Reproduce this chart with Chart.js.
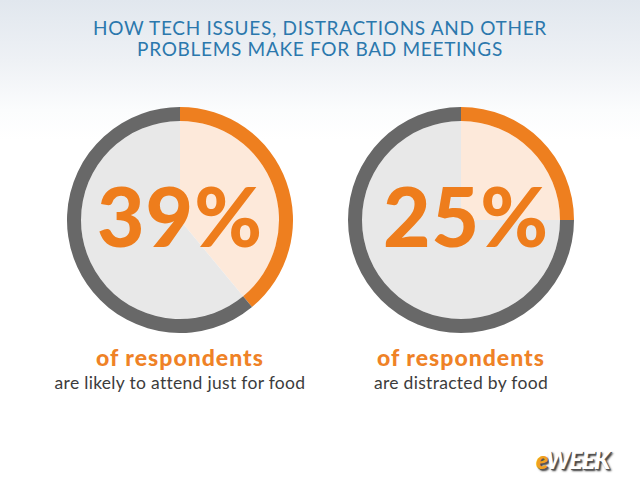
<!DOCTYPE html>
<html>
<head>
<meta charset="utf-8">
<script src="https://cdn.jsdelivr.net/npm/chart.js@4"></script>
<style>
  body { margin: 0; width: 640px; height: 480px; overflow: hidden;
    background: linear-gradient(#e1e7ee 0px, #eef1f5 60px, #fbfcfd 110px, #ffffff 140px);
    font-family: "Lato", "Open Sans", sans-serif; position: relative; }
  #title { position: absolute; top: 17px; left: 0; width: 640px; text-align: center;
    color: #2b78ad; font-size: 19px; line-height: 21px; font-weight: 400; letter-spacing: 0.7px; }
  .ring { position: absolute; width: 226px; height: 226px; }
  .big { position: absolute; width: 260px; text-align: center; color: #ee7d1c;
    font-size: 82px; font-weight: 900; line-height: 82px; letter-spacing: 1px; }
  .lead { position: absolute; width: 300px; text-align: center; color: #ef8226;
    font-size: 23px; line-height: 28px; font-weight: 900; letter-spacing: 1px; }
  .sub { position: absolute; width: 300px; text-align: center; color: #3c3c3c;
    font-size: 17.5px; line-height: 21px; letter-spacing: 0.3px; }
  #logo { position: absolute; left: 536px; top: 444px; font-size: 25px; font-weight: 900;
    font-style: italic; color: #fff; letter-spacing: -1px;
    text-shadow: 1px 1px 0 #555, 2px 2px 2px #333; }
  #logo span { color: #f0a020; }
</style>
</head>
<body>
<div id="title">HOW TECH ISSUES, DISTRACTIONS AND OTHER<br>PROBLEMS MAKE FOR BAD MEETINGS</div>

<div class="ring" style="left:67px;top:107px"><canvas id="c0"></canvas></div>
<div class="ring" style="left:348px;top:107px"><canvas id="c1"></canvas></div>

<div class="big" id="big0" style="left:50px;top:174px"></div>
<div class="big" id="big1" style="left:336px;top:174px"></div>

<div class="lead" id="lead0" style="left:30px;top:343px"></div>
<div class="lead" id="lead1" style="left:311px;top:343px"></div>
<div class="sub" id="sub0" style="left:30px;top:372px"></div>
<div class="sub" id="sub1" style="left:311px;top:372px"></div>

<div id="logo"><span>e</span>WEEK</div>

<script>
// data
const percents = [39, 25];
const leads = ["of respondents", "of respondents"];
const captions = ["are likely to attend just for food", "are distracted by food"];

const orange = "#ee7f1f";
const darkGray = "#686868";
const peach = "#fde9da";
const lightGray = "#e8e8e8";

percents.forEach((p, i) => {
  document.getElementById("big" + i).textContent = p + "%";
  document.getElementById("lead" + i).textContent = leads[i];
  document.getElementById("sub" + i).textContent = captions[i];

  new Chart(document.getElementById("c" + i), {
    type: "doughnut",
    data: {
      labels: ["yes", "no"],
      datasets: [
        { data: [p, 100 - p], backgroundColor: [orange, darkGray], borderWidth: 0, weight: 14 },
        { data: [p, 100 - p], backgroundColor: [peach, lightGray], borderWidth: 0, weight: 99 }
      ]
    },
    options: {
      responsive: true,
      maintainAspectRatio: false,
      animation: false,
      cutout: 0,
      plugins: { legend: { display: false }, tooltip: { enabled: false } },
      layout: { padding: 0 }
    }
  });
});
</script>
</body>
</html>
